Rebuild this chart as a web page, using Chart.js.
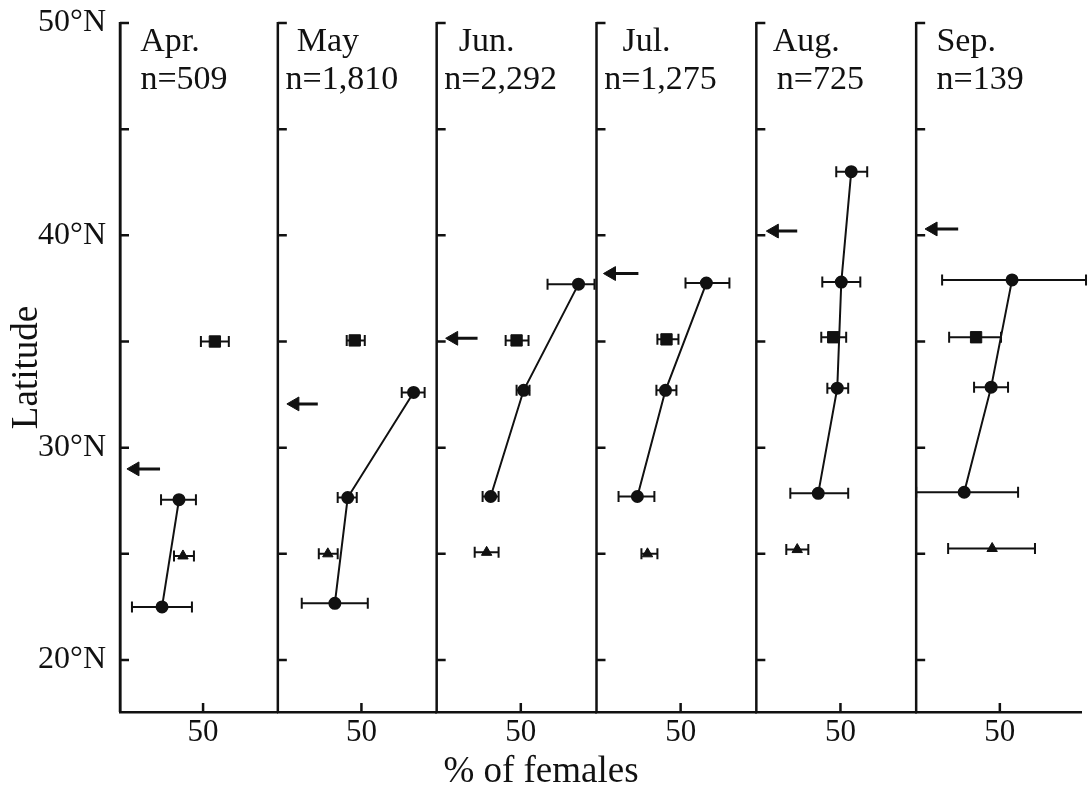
<!DOCTYPE html>
<html>
<head>
<meta charset="utf-8">
<script src="https://cdn.jsdelivr.net/npm/chart.js@4.4.1/dist/chart.umd.min.js"></script>
<style>
  html, body { margin: 0; padding: 0; background: #fff; }
  canvas { display: block; }
</style>
</head>
<body>
<canvas id="c" width="1090" height="794"></canvas>
<script>
// ---------------- DATA ----------------
const months = ['Apr.', 'May', 'Jun.', 'Jul.', 'Aug.', 'Sep.'];
const sampleSizes = ['n=509', 'n=1,810', 'n=2,292', 'n=1,275', 'n=725', 'n=139'];
const xTickValues = [50];
const xTickLabels = ['50'];
const yTickValues = [20, 25, 30, 35, 40, 45, 50];
const yTickLabels = ['20°N', '', '30°N', '', '40°N', '', '50°N'];

// each row: [latitude, % of females, lower end, upper end]
const aprCircles   = [[27.55, 35.5, 24.7, 45.7], [22.5, 25.3, 7.2, 43.3]];
const aprSquares   = [[35.0, 57.1, 48.7, 65.5]];
const aprTriangles = [[24.9, 37.9, 32.5, 44.5]];

const mayCircles   = [[32.6, 81.2, 74.1, 87.8], [27.65, 41.8, 35.8, 47.2], [22.67, 34.1, 14.3, 53.8]];
const maySquares   = [[35.05, 46.0, 41.2, 52.0]];
const mayTriangles = [[25.0, 29.9, 24.5, 35.8]];

const junCircles   = [[37.7, 84.3, 65.9, 93.8], [32.7, 51.7, 47.5, 55.2], [27.7, 32.1, 27.3, 36.8]];
const junSquares   = [[35.05, 47.5, 41.0, 54.6]];
const junTriangles = [[25.07, 29.7, 22.6, 36.8]];

const julCircles   = [[37.75, 65.3, 52.9, 79.0], [32.7, 41.0, 35.6, 47.5], [27.7, 24.3, 13.1, 34.4]];
const julSquares   = [[35.1, 41.6, 36.2, 48.7]];
const julTriangles = [[25.0, 30.3, 26.7, 36.2]];

const augCircles   = [[43.0, 56.4, 47.5, 65.9], [37.8, 50.5, 39.2, 61.8], [32.8, 48.1, 42.2, 54.6], [27.85, 36.8, 20.2, 54.6]];
const augSquares   = [[35.2, 45.7, 38.6, 53.4]];
const augTriangles = [[25.2, 24.3, 17.8, 30.9]];

const sepCircles   = [[37.9, 57.3, 15.5, 101.5], [32.85, 44.8, 34.6, 54.9], [27.9, 28.7, 0.0, 60.9]];
const sepSquares   = [[35.2, 35.8, 19.7, 50.7]];
const sepTriangles = [[25.25, 45.4, 19.1, 71.0]];

// arrows: [latitude, arrow head, arrow tail]
const aprArrow = [29.0, 9.0, 24.1];
const mayArrow = [32.06, 10.2, 23.9];
const junArrow = [35.15, 10.1, 24.3];
const julArrow = [38.2, 8.9, 24.9];
const augArrow = [40.2, 10.7, 24.3];
const sepArrow = [40.3, 10.1, 25.1];

const allCircles = [aprCircles, mayCircles, junCircles, julCircles, augCircles, sepCircles];
const allSquares = [aprSquares, maySquares, junSquares, julSquares, augSquares, sepSquares];
const allTriangles = [aprTriangles, mayTriangles, junTriangles, julTriangles, augTriangles, sepTriangles];
const allArrows = [aprArrow, mayArrow, junArrow, julArrow, augArrow, sepArrow];

// ---------------- LAYOUT / STYLE ----------------
const panelWeights = [158, 159, 160, 160, 160, 165];
const panelMax = [95, 95, 95, 95, 95, 98.5];
const INK = '#111';
const FONT = '"Liberation Serif", "Times New Roman", serif';
Chart.defaults.font.family = FONT;
Chart.defaults.color = INK;

const toPoints = rows => rows.map(([lat, pct, lo, hi]) => ({ x: pct, y: lat, xMin: lo, xMax: hi }));

const datasets = [];
months.forEach((m, i) => {
  const xid = 'x' + i;
  datasets.push({
    label: m + ' circles', xAxisID: xid, yAxisID: 'y', data: toPoints(allCircles[i]),
    showLine: true, borderColor: INK, borderWidth: 2, pointStyle: 'circle', pointRadius: 5.5,
    pointBackgroundColor: INK, pointBorderColor: INK, errorBars: true
  });
  datasets.push({
    label: m + ' squares', xAxisID: xid, yAxisID: 'y', data: toPoints(allSquares[i]),
    showLine: false, pointStyle: 'rect', pointRadius: 8,
    pointBackgroundColor: INK, pointBorderColor: INK, errorBars: true
  });
  datasets.push({
    label: m + ' triangles', xAxisID: xid, yAxisID: 'y', data: toPoints(allTriangles[i]),
    showLine: false, pointStyle: 'triangle', pointRadius: 6,
    pointBackgroundColor: INK, pointBorderColor: INK, errorBars: true
  });
  const a = allArrows[i];
  datasets.push({
    label: m + ' arrow', xAxisID: xid, yAxisID: 'y',
    data: [{ x: a[1], y: a[0] }, { x: a[2], y: a[0] }],
    showLine: true, borderColor: INK, borderWidth: 3,
    pointStyle: 'triangle', pointRotation: -90, pointRadius: [8, 0],
    pointBackgroundColor: INK, pointBorderColor: INK, pointBorderWidth: 1
  });
});

const errorBarPlugin = {
  id: 'errorBars',
  beforeDatasetsDraw(chart) {
    const ctx = chart.ctx;
    ctx.save();
    ctx.strokeStyle = INK;
    ctx.lineWidth = 2;
    chart.data.datasets.forEach(ds => {
      if (!ds.errorBars) return;
      const xs = chart.scales[ds.xAxisID];
      const ys = chart.scales[ds.yAxisID];
      ds.data.forEach(p => {
        const y = ys.getPixelForValue(p.y);
        const x1 = xs.getPixelForValue(p.xMin);
        const x2 = xs.getPixelForValue(p.xMax);
        ctx.beginPath();
        ctx.moveTo(x1, y); ctx.lineTo(x2, y);
        ctx.moveTo(x1, y - 5.5); ctx.lineTo(x1, y + 5.5);
        ctx.moveTo(x2, y - 5.5); ctx.lineTo(x2, y + 5.5);
        ctx.stroke();
      });
    });
    ctx.restore();
  }
};

const panelPlugin = {
  id: 'panels',
  afterDraw(chart) {
    const ctx = chart.ctx;
    const ys = chart.scales.y;
    ctx.save();
    ctx.strokeStyle = INK;
    ctx.fillStyle = INK;
    ctx.lineWidth = 2.5;
    months.forEach((m, i) => {
      const xs = chart.scales['x' + i];
      const left = xs.left;
      ctx.beginPath();
      ctx.moveTo(left, ys.top - 1);
      ctx.lineTo(left, ys.bottom);
      yTickValues.forEach(v => {
        const py = ys.getPixelForValue(v);
        ctx.moveTo(left, py); ctx.lineTo(left + 9, py);
      });
      xTickValues.forEach(v => {
        const px = xs.getPixelForValue(v);
        ctx.moveTo(px, ys.bottom); ctx.lineTo(px, ys.bottom - 9);
      });
      ctx.stroke();
      ctx.font = '34px ' + FONT;
      ctx.textAlign = 'center';
      ctx.textBaseline = 'alphabetic';
      ctx.fillText(m, left + 50, ys.top + 28);
      ctx.fillText(sampleSizes[i], left + 64, ys.top + 66);
    });
    ctx.restore();
  }
};

const scales = {
  y: {
    type: 'linear', position: 'left', min: 17.55, max: 50,
    afterBuildTicks: s => { s.ticks = yTickValues.map(v => ({ value: v })); },
    afterFit: s => { s.width = 120; s.paddingTop = 0; s.paddingBottom = 0; },
    grid: { display: false, drawTicks: false },
    border: { display: true, color: INK, width: 2.5 },
    ticks: {
      autoSkip: false, padding: 14, color: INK,
      font: { size: 32, lineHeight: 1 },
      callback: (v, i) => yTickLabels[i]
    },
    title: {
      display: true, text: 'Latitude', color: INK,
      font: { size: 37, lineHeight: 1 }, padding: { top: 9, bottom: 0 }
    }
  }
};
months.forEach((m, i) => {
  scales['x' + i] = {
    type: 'linear', axis: 'x', position: 'bottom', stack: 'panels', stackWeight: panelWeights[i],
    min: 0, max: panelMax[i],
    afterBuildTicks: s => { s.ticks = xTickValues.map(v => ({ value: v })); },
    afterFit: s => { s.height = 42; },
    grid: { display: false, drawTicks: false },
    border: { display: true, color: INK, width: 2.5 },
    ticks: {
      autoSkip: false, maxRotation: 0, padding: 5, color: INK,
      font: { size: 31, lineHeight: 1 },
      callback: (v, j) => xTickLabels[j]
    }
  };
});

new Chart(document.getElementById('c'), {
  type: 'scatter',
  data: { datasets },
  options: {
    responsive: false,
    devicePixelRatio: 1,
    animation: false,
    events: [],
    layout: { padding: { left: 0, right: 8, top: 23, bottom: 0 } },
    scales,
    plugins: {
      legend: { display: false },
      tooltip: { enabled: false },
      title: {
        display: true, position: 'bottom', text: '% of females', color: INK,
        font: { size: 37, lineHeight: 1, weight: 'normal' },
        padding: { top: 0, bottom: 3 }
      }
    }
  },
  plugins: [errorBarPlugin, panelPlugin]
});
</script>
</body>
</html>
